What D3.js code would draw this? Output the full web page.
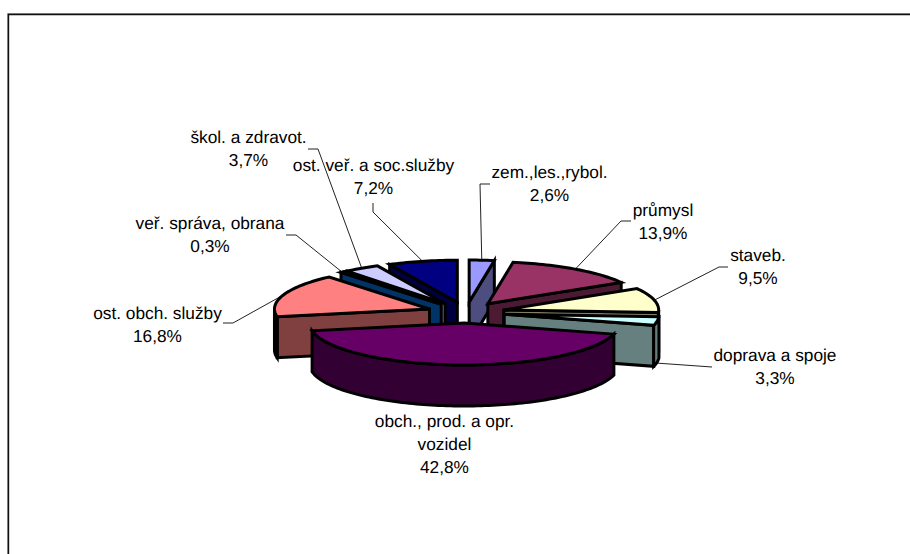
<!DOCTYPE html>
<html>
<head>
<meta charset="utf-8">
<script src="https://cdn.jsdelivr.net/npm/d3@7"></script>
<style>
  html, body { margin: 0; padding: 0; background: #fff; }
  svg { display: block; }
  text { font-family: "Liberation Sans", Arial, sans-serif; font-size: 17.3px; fill: #000; text-rendering: geometricPrecision; }
</style>
</head>
<body>
<div id="vis"></div>
<script>
const categories = ["zem.,les.,rybol.", "průmysl", "staveb.", "doprava a spoje", "obch., prod. a opr. vozidel",
  "ost. obch. služby", "veř. správa, obrana", "škol. a zdravot.", "ost. veř. a soc.služby"];
const values = [2.6, 13.9, 9.5, 3.3, 42.8, 16.8, 0.3, 3.7, 7.2];
const topColors = ["#9999ff", "#993366", "#ffffcc", "#ccffff", "#660066", "#ff8080", "#0066cc", "#ccccff", "#000080"];
const sideColors = ["#4d4d80", "#4d1a33", "#808066", "#668080", "#330033", "#804040", "#003366", "#666680", "#000040"];

// label layout: centre x, first baseline, wrapped lines
const labelX = [549.5, 663, 758, 775, 444.5, 157.5, 210, 248.5, 373.5];
const labelY = [178, 216, 261, 361, 427, 319, 229, 143, 171];
const labelLines = [["zem.,les.,rybol."], ["průmysl"], ["staveb."], ["doprava a spoje"], ["obch., prod. a opr.", "vozidel"],
  ["ost. obch. služby"], ["veř. správa, obrana"], ["škol. a zdravot."], ["ost. veř. a soc.služby"]];
// leader line: the points before it runs to the slice
const leaderStart = [[490, 184, 480, 184], [631, 221, 621, 221], [728, 267, 719, 267], [712, 367], null,
  [223, 323, 233, 323], [286, 235, 296, 235], [308, 149, 318, 149], [373, 203, 373, 212]];

function createVis() {
  const width = 910;
  const height = 554;
  const cx = 466, cy = 312.5, rx = 155, ry = 42, depth = 41, explode = 0.25;

  const svg = d3.select("#vis")
    .append("svg")
    .attr("width", width)
    .attr("height", height)
    .attr("viewBox", [0, 0, width, height]);

  // only the top and left of the chart frame are in the picture
  svg.append("path").attr("d", "M7.5,554V13.5H910").attr("fill", "none").attr("stroke", "#999").attr("stroke-width", 1);
  svg.append("path").attr("d", "M8.5,554V14.5H910").attr("fill", "none").attr("stroke", "#111").attr("stroke-width", 1.4);

  const x = d3.scaleLinear().domain([-1, 1]).range([cx - rx, cx + rx]);
  const y = d3.scaleLinear().domain([-1, 1]).range([cy + ry, cy - ry]);
  const line = d3.line();

  const arcs = d3.pie().sort(null).value(d => d)(values).map((d, i) => {
    const mid = (d.startAngle + d.endAngle) / 2;
    return { i, a0: d.startAngle, a1: d.endAngle, mid, ox: explode * Math.sin(mid), oy: explode * Math.cos(mid) };
  });

  function pt(s, a, r, z) {
    return [x(s.ox + r * Math.sin(a)), y(s.oy + r * Math.cos(a)) + (z || 0)];
  }
  function arcPoints(s, a0, a1, z) {
    const n = Math.max(2, Math.ceil((a1 - a0) * 40));
    return d3.range(n + 1).map(k => pt(s, a0 + (a1 - a0) * k / n, 1, z));
  }

  // leaders go under the pie
  arcs.forEach(s => {
    const start = leaderStart[s.i];
    if (!start) return;
    const pts = d3.range(0, start.length, 2).map(k => [start[k], start[k + 1]]);
    pts.push(pt(s, s.mid, 1, s.i === 3 ? depth + 1 : 0));
    svg.append("path")
      .attr("d", line(pts))
      .attr("fill", "none")
      .attr("stroke", "#222")
      .attr("stroke-width", 1);
  });

  const order = arcs.slice().sort((a, b) => Math.cos(b.mid) - Math.cos(a.mid));
  const pie = svg.append("g")
    .attr("stroke", "#000")
    .attr("stroke-width", 3)
    .attr("stroke-linejoin", "miter");

  order.forEach(s => {
    const side = sideColors[s.i];
    const cut = s.a1 < Math.PI ? s.a1 : (s.a0 > Math.PI ? s.a0 : null);
    if (cut !== null) {
      pie.append("path")
        .attr("d", line([pt(s, 0, 0), pt(s, cut, 1), pt(s, cut, 1, depth), pt(s, 0, 0, depth)]) + "Z")
        .attr("fill", side);
    }
    const w0 = Math.max(s.a0, Math.PI / 2);
    const w1 = Math.min(s.a1, Math.PI * 1.5);
    if (w1 > w0) {
      pie.append("path")
        .attr("d", line(arcPoints(s, w0, w1, 0).concat(arcPoints(s, w0, w1, depth).reverse())) + "Z")
        .attr("fill", side);
    }
    pie.append("path")
      .attr("d", line([pt(s, 0, 0)].concat(arcPoints(s, s.a0, s.a1, 0))) + "Z")
      .attr("fill", topColors[s.i]);
  });

  const fmt = v => v.toFixed(1).replace(".", ",") + "%";
  categories.forEach((c, i) => {
    const lines = labelLines[i].concat(fmt(values[i]));
    const t = svg.append("text")
      .attr("text-anchor", "middle")
      .attr("data-category", c);
    lines.forEach((l, k) => {
      t.append("tspan").attr("x", labelX[i]).attr("y", labelY[i] + k * 23).text(l);
    });
  });
}

createVis();
</script>
</body>
</html>
